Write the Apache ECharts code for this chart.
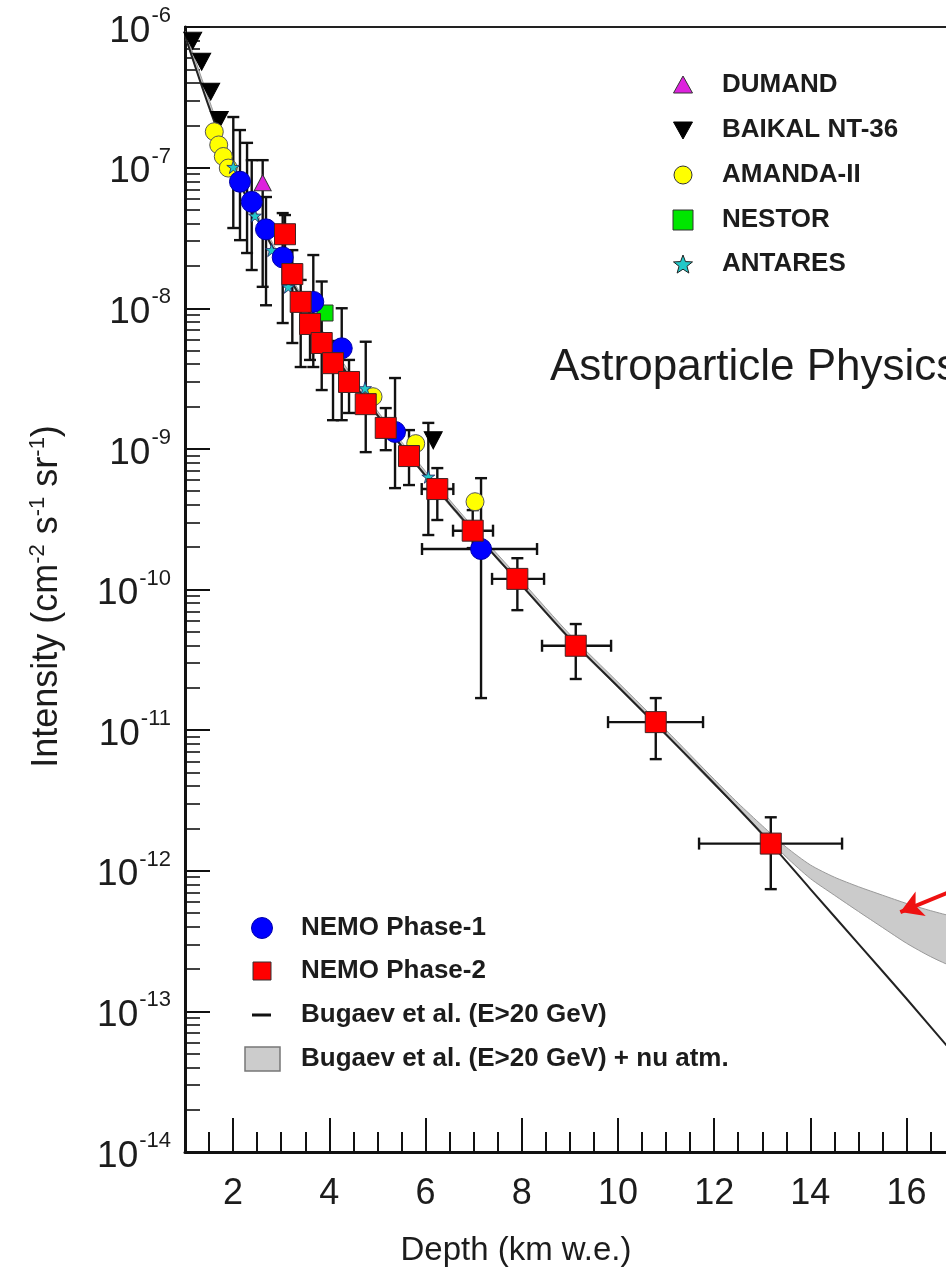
<!DOCTYPE html>
<html><head><meta charset="utf-8">
<script src="https://cdn.jsdelivr.net/npm/echarts@6/dist/echarts.min.js"></script>
<style>html,body{margin:0;padding:0;background:#fff;overflow:hidden}#c{width:946px;height:1276px}</style>
</head><body><div id="c"></div>
<script>
// ---------------- data ----------------
const xTickValues = [2, 4, 6, 8, 10, 12, 14, 16, 18, 20];

// Bugaev et al. (E>20 GeV) curve
const lineDepth = [1.0, 1.25, 1.5, 1.75, 2.0, 2.25, 2.5, 3.0, 3.5, 4.0, 4.5, 5.0, 5.5, 6.0, 6.5, 7.0, 8.0, 9.0, 10.0, 11.0, 12.0, 13.0, 14.0, 15.0, 16.0, 17.0, 18.0];
const lineIntensity = [8.71e-7, 4.79e-7, 2.69e-7, 1.58e-7, 9.77e-8, 6.46e-8, 4.37e-8, 2.09e-8, 1.05e-8, 5.37e-9, 2.95e-9, 1.74e-9, 1.05e-9, 6.46e-10, 4.07e-10, 2.57e-10, 1.07e-10, 4.47e-11, 2.04e-11, 9.33e-12, 4.17e-12, 1.82e-12, 7.41e-13, 3.02e-13, 1.23e-13, 4.90e-14, 1.95e-14];

// Bugaev et al. (E>20 GeV) + nu atm. band
const bandDepth = [1, 2, 3, 4, 5, 6, 7, 8, 9, 10, 11, 12, 12.5, 13, 13.5, 14, 14.5, 15, 15.5, 16, 16.5, 17, 18];
const bandLow  = [8.51e-7, 9.55e-8, 2.04e-8, 5.25e-9, 1.70e-9, 6.31e-10, 2.51e-10, 1.05e-10, 4.37e-11, 2.00e-11, 9.12e-12, 4.07e-12, 2.75e-12, 1.86e-12, 1.25e-12, 8.80e-13, 6.70e-13, 5.13e-13, 3.95e-13, 3.05e-13, 2.45e-13, 2.05e-13, 1.55e-13];
const bandHigh = [9.33e-7, 1.05e-7, 2.24e-8, 5.75e-9, 1.86e-9, 6.92e-10, 2.75e-10, 1.15e-10, 4.79e-11, 2.19e-11, 1.00e-11, 4.47e-12, 3.02e-12, 2.09e-12, 1.47e-12, 1.10e-12, 9.00e-13, 7.70e-13, 6.70e-13, 5.85e-13, 5.20e-13, 4.70e-13, 4.00e-13];

// experiments: [depth km w.e., intensity]
const dumand  = [[2.615, 7.82e-8]];
const baikal  = [[1.16, 8.0e-7], [1.347, 5.66e-7], [1.534, 3.47e-7], [1.713, 2.18e-7], [6.16, 1.15e-9]];
const amanda  = [[1.609, 1.80e-7], [1.701, 1.45e-7], [1.796, 1.20e-7], [1.900, 9.93e-8], [4.909, 2.35e-9], [5.796, 1.09e-9], [7.029, 4.21e-10]];
const nestor  = [[3.911, 9.25e-9]];
const antares = [[2.004, 1.01e-7], [2.455, 4.55e-8], [2.802, 2.59e-8], [3.148, 1.42e-8], [4.742, 2.70e-9], [6.058, 6.34e-10]];
const nemo1   = [[2.143, 7.94e-8], [2.387, 5.71e-8], [2.684, 3.64e-8], [3.031, 2.30e-8], [3.667, 1.11e-8], [4.258, 5.19e-9], [5.366, 1.32e-9], [7.154, 1.94e-10]];
const nemo2   = [[3.079, 3.36e-8], [3.231, 1.75e-8], [3.405, 1.11e-8], [3.599, 7.73e-9], [3.842, 5.66e-9], [4.077, 4.07e-9], [4.410, 2.99e-9], [4.757, 2.08e-9], [5.173, 1.41e-9], [5.657, 8.89e-10], [6.245, 5.18e-10], [6.981, 2.62e-10], [7.909, 1.19e-10], [9.123, 3.98e-11], [10.786, 1.14e-11], [13.177, 1.56e-12]];

// error bars: [depth, intensity, intensityLow, intensityHigh, depthLow, depthHigh] (0 = none)
const nemo1Err = [
  [2.143, 7.94e-8, 3.05e-8, 1.85e-7, 0, 0],
  [2.387, 5.71e-8, 1.87e-8, 1.13e-7, 0, 0],
  [2.684, 3.64e-8, 1.05e-8, 6.18e-8, 0, 0],
  [3.031, 2.30e-8, 7.85e-9, 4.75e-8, 0, 0],
  [3.667, 1.11e-8, 3.82e-9, 2.39e-8, 0, 0],
  [4.258, 5.19e-9, 1.60e-9, 1.00e-8, 0, 0],
  [5.366, 1.32e-9, 5.26e-10, 3.19e-9, 0, 0],
  [7.154, 1.94e-10, 1.69e-11, 6.19e-10, 5.927, 8.318]
];
const nemo2Err = [
  [3.079, 3.36e-8, 2.13e-8, 4.60e-8, 0, 0],
  [3.231, 1.75e-8, 5.66e-9, 2.59e-8, 0, 0],
  [3.405, 1.11e-8, 3.82e-9, 1.59e-8, 0, 0],
  [3.599, 7.73e-9, 4.29e-9, 1.14e-8, 0, 0],
  [3.842, 5.66e-9, 2.62e-9, 1.55e-8, 0, 0],
  [4.077, 4.07e-9, 1.60e-9, 5.85e-9, 0, 0],
  [4.410, 2.99e-9, 1.80e-9, 4.29e-9, 0, 0],
  [4.757, 2.08e-9, 9.48e-10, 5.78e-9, 0, 0],
  [5.173, 1.41e-9, 9.79e-10, 1.95e-9, 0, 0],
  [5.657, 8.89e-10, 5.53e-10, 1.36e-9, 0, 0],
  [6.245, 5.18e-10, 3.12e-10, 7.30e-10, 5.921, 6.578],
  [6.981, 2.62e-10, 1.97e-10, 3.67e-10, 6.572, 7.403],
  [7.909, 1.19e-10, 7.13e-11, 1.67e-10, 7.383, 8.464],
  [9.123, 3.98e-11, 2.31e-11, 5.68e-11, 8.422, 9.857],
  [10.786, 1.14e-11, 6.22e-12, 1.69e-11, 9.794, 11.769],
  [13.177, 1.56e-12, 7.40e-13, 2.40e-12, 11.686, 14.659]
];
const otherErr = [
  [2.615, 7.82e-8, 1.42e-8, 1.13e-7, 0, 0],
  [2.004, 1.01e-7, 3.72e-8, 2.29e-7, 0, 0],
  [2.29, 5.5e-8, 2.47e-8, 1.50e-7, 0, 0],
  [6.058, 6.34e-10, 2.44e-10, 1.53e-9, 0, 0]
];

// red annotation arrow: [depth, intensity]
const arrowFrom = [17.74, 9.31e-13];
const arrowTo = [15.87, 5.08e-13];

// legend entries
const legendTop = ['DUMAND', 'BAIKAL NT-36', 'AMANDA-II', 'NESTOR', 'ANTARES'];
const legendBottom = ['NEMO Phase-1', 'NEMO Phase-2', 'Bugaev et al. (E>20 GeV)', 'Bugaev et al. (E>20 GeV) + nu atm.'];

// ---------------- chart ----------------
const FONT = '"Liberation Sans", Arial, Helvetica, sans-serif';
const INK = '#1c1c1c';
const chart = echarts.init(document.getElementById('c'), null, {renderer: 'canvas'});

function errRender(params, api) {
  const x = api.value(0), lo = api.value(2), hi = api.value(3), xl = api.value(4), xh = api.value(5), y = api.value(1);
  const st = {stroke: '#111', lineWidth: 2.4};
  const ch = [];
  const cap = 6;
  if (lo > 0 && hi > 0) {
    const a = api.coord([x, hi]), b = api.coord([x, lo]);
    ch.push({type: 'line', shape: {x1: a[0], y1: a[1], x2: b[0], y2: b[1]}, style: st});
    ch.push({type: 'line', shape: {x1: a[0] - cap, y1: a[1], x2: a[0] + cap, y2: a[1]}, style: st});
    ch.push({type: 'line', shape: {x1: b[0] - cap, y1: b[1], x2: b[0] + cap, y2: b[1]}, style: st});
  }
  if (xl > 0 && xh > 0) {
    const a = api.coord([xl, y]), b = api.coord([xh, y]);
    ch.push({type: 'line', shape: {x1: a[0], y1: a[1], x2: b[0], y2: b[1]}, style: st});
    ch.push({type: 'line', shape: {x1: a[0], y1: a[1] - cap, x2: a[0], y2: a[1] + cap}, style: st});
    ch.push({type: 'line', shape: {x1: b[0], y1: b[1] - cap, x2: b[0], y2: b[1] + cap}, style: st});
  }
  return {type: 'group', children: ch};
}

function bandRender(params, api) {
  if (params.dataIndex !== 0) return null;
  const pts = [];
  for (let i = 0; i < bandDepth.length; i++) pts.push(api.coord([bandDepth[i], bandHigh[i]]));
  for (let i = bandDepth.length - 1; i >= 0; i--) pts.push(api.coord([bandDepth[i], bandLow[i]]));
  return {type: 'polygon', shape: {points: pts, smooth: 0.25}, style: {fill: '#cbcbcb', stroke: '#999', lineWidth: 1}};
}

const STAR = 'path://M50,2 L61,36 L97,36 L68,57 L79,92 L50,70 L21,92 L32,57 L3,36 L39,36 Z';

function starPoints(cx, cy, R, r) {
  const p = [];
  for (let i = 0; i < 10; i++) {
    const ang = -Math.PI / 2 + i * Math.PI / 5;
    const rr = i % 2 === 0 ? R : r;
    p.push([cx + rr * Math.cos(ang), cy + rr * Math.sin(ang)]);
  }
  return p;
}

const txt = (x, y, s, size, weight, align) => ({
  type: 'text', x: x, y: y,
  style: {text: s, fontSize: size, fontWeight: weight, fontFamily: FONT, fill: INK,
          textAlign: align || 'left', textVerticalAlign: 'middle', align: align || 'left', verticalAlign: 'middle'}
});

const topRows = [85, 130, 175, 220, 264];
const botRows = [928, 971, 1015, 1059];
const graphics = [];
graphics.push({type: 'polygon', shape: {points: [[683, 76], [692.5, 93], [673.5, 93]]}, style: {fill: '#dd22dd', stroke: '#333', lineWidth: 1}});
graphics.push({type: 'polygon', shape: {points: [[673.5, 122], [692.5, 122], [683, 139]]}, style: {fill: '#000', stroke: '#000', lineWidth: 1}});
graphics.push({type: 'circle', shape: {cx: 683, cy: 175, r: 9}, style: {fill: '#ffff00', stroke: '#333', lineWidth: 1}});
graphics.push({type: 'rect', shape: {x: 673, y: 210, width: 20, height: 20}, style: {fill: '#00e600', stroke: '#333', lineWidth: 1}});
graphics.push({type: 'polygon', shape: {points: starPoints(683, 265, 10, 4.2)}, style: {fill: '#22c8c8', stroke: '#222', lineWidth: 1}});
legendTop.forEach((s, i) => graphics.push(txt(722, topRows[i], s, 26, 'bold')));
graphics.push({type: 'circle', shape: {cx: 262, cy: botRows[0], r: 10.5}, style: {fill: '#0000ff', stroke: '#0000aa', lineWidth: 1}});
graphics.push({type: 'rect', shape: {x: 253, y: botRows[1] - 9, width: 18, height: 18}, style: {fill: '#ff0000', stroke: '#333', lineWidth: 1}});
graphics.push({type: 'line', shape: {x1: 252, y1: botRows[2], x2: 271, y2: botRows[2]}, style: {stroke: '#111', lineWidth: 3}});
graphics.push({type: 'rect', shape: {x: 245, y: botRows[3] - 12, width: 35, height: 24}, style: {fill: '#cccccc', stroke: '#777', lineWidth: 1.5}});
legendBottom.forEach((s, i) => graphics.push(txt(301, botRows[i], s, 26, 'bold')));
graphics.push(txt(550, 368, 'Astroparticle Physics', 44, 'normal'));
graphics.push(txt(516, 1251, 'Depth (km w.e.)', 33, 'normal', 'center'));

const axisLineStyle = {color: '#111', width: 3};

const option = {
  animation: false,
  backgroundColor: '#ffffff',
  grid: {left: 185, top: 27, width: 914, height: 1125, containLabel: false, outerBoundsMode: 'none',
         show: true, borderColor: '#222', borderWidth: 2, backgroundColor: 'transparent'},
  xAxis: [
    {
      type: 'value', min: 1, max: 20, interval: 0.5, position: 'bottom',
      axisLine: {show: true, onZero: false, lineStyle: axisLineStyle},
      axisTick: {show: true, inside: true, length: 20, lineStyle: {color: '#111', width: 2}},
      axisLabel: {show: false}, splitLine: {show: false}
    },
    {
      type: 'value', min: 1, max: 20, position: 'bottom',
      axisLine: {show: false, onZero: false},
      axisTick: {show: true, inside: true, length: 34, customValues: xTickValues, lineStyle: {color: '#111', width: 2}},
      axisLabel: {show: true, customValues: xTickValues, margin: 24, fontSize: 36, fontFamily: FONT, color: INK},
      splitLine: {show: false}
    }
  ],
  yAxis: {
    type: 'log', logBase: 10, min: 1e-14, max: 1e-6, splitNumber: 8,
    axisLine: {show: true, onZero: false, lineStyle: axisLineStyle},
    axisTick: {show: true, inside: true, length: 25, lineStyle: {color: '#111', width: 2}},
    minorTick: {show: true, splitNumber: 9, length: 15, lineStyle: {color: '#111', width: 1.6}},
    splitLine: {show: false}, minorSplitLine: {show: false},
    axisLabel: {
      margin: 14, fontFamily: FONT, color: INK,
      formatter: function (v) { return '{b|10}{s|' + Math.round(Math.log10(v)) + '}'; },
      rich: {
        b: {fontSize: 37, fontFamily: FONT, color: INK, padding: [9, 0, 0, 0]},
        s: {fontSize: 22, fontFamily: FONT, color: INK, padding: [0, 0, 22, 1]}
      }
    },
    name: 'Intensity (cm{s|-2} s{s|-1} sr{s|-1})',
    nameLocation: 'middle', nameRotate: 90, nameGap: 118,
    nameTextStyle: {
      fontSize: 36, fontFamily: FONT, color: INK, padding: [0, 14, 0, 0],
      rich: {s: {fontSize: 22, fontFamily: FONT, color: INK, padding: [0, 0, 18, 0]}}
    }
  },
  graphic: {elements: graphics},
  series: [
    {type: 'custom', name: 'Bugaev et al. (E>20 GeV) + nu atm.', xAxisIndex: 0, renderItem: bandRender, clip: true, z: 1, silent: true,
     data: bandDepth.map((d, i) => [d, bandHigh[i], bandLow[i]])},
    {type: 'line', name: 'Bugaev et al. (E>20 GeV)', xAxisIndex: 0, z: 2, symbol: 'none', showSymbol: false, smooth: 0.3,
     lineStyle: {color: '#222', width: 2}, silent: true,
     data: lineDepth.map((d, i) => [d, lineIntensity[i]]),
     markLine: {silent: true, animation: false, symbol: ['none', 'arrow'], symbolSize: [20, 22],
       label: {show: false}, lineStyle: {color: '#ee1111', width: 4, type: 'solid'},
       data: [[{coord: arrowFrom}, {coord: arrowTo}]]}},
    {type: 'custom', name: 'errors', xAxisIndex: 0, renderItem: errRender, clip: true, z: 3, silent: true,
     data: nemo1Err.concat(otherErr).concat(nemo2Err)},
    {type: 'scatter', name: 'BAIKAL NT-36', xAxisIndex: 0, z: 4, data: baikal, symbol: 'triangle', symbolRotate: 180, symbolSize: [18, 17],
     itemStyle: {color: '#000', borderColor: '#000', borderWidth: 1, opacity: 1}},
    {type: 'scatter', name: 'AMANDA-II', xAxisIndex: 0, z: 4, data: amanda, symbol: 'circle', symbolSize: 18,
     itemStyle: {color: '#ffff00', borderColor: '#555', borderWidth: 1, opacity: 1}},
    {type: 'scatter', name: 'ANTARES', xAxisIndex: 0, z: 4, data: antares, symbol: STAR, symbolSize: 13,
     itemStyle: {color: '#22c8c8', borderColor: '#226', borderWidth: 0.8, opacity: 1}},
    {type: 'scatter', name: 'DUMAND', xAxisIndex: 0, z: 4, data: dumand, symbol: 'triangle', symbolSize: [17, 16],
     itemStyle: {color: '#dd22dd', borderColor: '#333', borderWidth: 1, opacity: 1}},
    {type: 'scatter', name: 'NESTOR', xAxisIndex: 0, z: 4, data: nestor, symbol: 'rect', symbolSize: 16,
     itemStyle: {color: '#00e600', borderColor: '#333', borderWidth: 1, opacity: 1}},
    {type: 'scatter', name: 'NEMO Phase-1', xAxisIndex: 0, z: 5, data: nemo1, symbol: 'circle', symbolSize: 21,
     itemStyle: {color: '#0000ff', borderColor: '#0000aa', borderWidth: 1, opacity: 1}},
    {type: 'scatter', name: 'NEMO Phase-2', xAxisIndex: 0, z: 6, data: nemo2, symbol: 'rect', symbolSize: 21,
     itemStyle: {color: '#ff0000', borderColor: '#442222', borderWidth: 1, opacity: 1}}
  ]
};
chart.setOption(option);
</script>
</body></html>
